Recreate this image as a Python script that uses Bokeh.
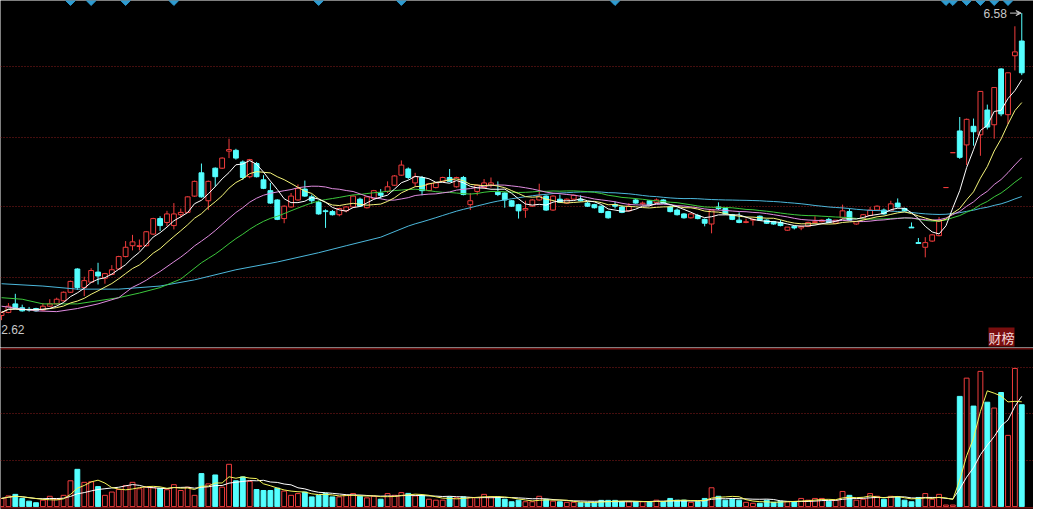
import numpy as np
import pandas as pd
from bokeh.plotting import figure
from bokeh.layouts import column
from bokeh.models import Range1d, Span, Label, Arrow, VeeHead, FixedTicker, ColumnDataSource
from bokeh.embed import file_html
from bokeh.resources import INLINE
from bokeh.core.properties import value

# ---------------- data ----------------
opens = [2.68, 2.72, 2.83, 2.78, 2.76, 2.77, 2.75, 2.80, 2.83, 2.87,
         2.98, 3.28, 3.04, 3.11, 3.24, 3.16, 3.21, 3.28, 3.44, 3.58,
         3.57, 3.58, 3.73, 3.93, 3.88, 3.84, 3.98, 4.01, 4.22, 4.52,
         4.16, 4.58, 4.58, 4.80, 4.81, 4.66, 4.47, 4.64, 4.43, 4.29,
         4.17, 3.93, 4.08, 4.17, 4.31, 4.21, 4.14, 4.03, 4.02, 3.98,
         4.03, 4.08, 4.18, 4.07, 4.19, 4.26, 4.28, 4.36, 4.49, 4.57,
         4.39, 4.46, 4.29, 4.33, 4.41, 4.46, 4.34, 4.46, 4.11, 4.28,
         4.33, 4.36, 4.27, 4.26, 4.16, 4.11, 4.04, 4.09, 4.17, 4.22,
         4.04, 4.18, 4.13, 4.18, 4.18, 4.13, 4.11, 4.09, 4.02, 4.11,
         4.08, 4.03, 4.17, 4.12, 4.16, 4.14, 4.17, 4.08, 4.04, 3.99,
         3.94, 3.97, 3.92, 3.86, 4.08, 4.06, 3.98, 3.91, 3.88, 3.91,
         3.96, 3.91, 3.89, 3.88, 3.78, 3.83, 3.81, 3.83, 3.88, 3.89,
         3.92, 3.87, 3.94, 4.02, 3.86, 3.93, 3.97, 4.04, 4.04, 4.03,
         4.13, 4.06, 3.82, 3.62, 3.56, 3.64, 3.71, 4.33, 4.78, 5.06,
         4.88, 5.12, 5.01, 5.33, 5.14, 5.86, 5.27, 6.03, 6.22]
highs = [2.73, 2.84, 2.96, 2.82, 2.79, 2.78, 2.84, 2.89, 2.91, 2.99,
         3.13, 3.29, 3.18, 3.29, 3.36, 3.23, 3.33, 3.45, 3.64, 3.72,
         3.66, 3.77, 3.94, 3.96, 4.03, 4.13, 4.06, 4.22, 4.42, 4.64,
         4.42, 4.59, 4.72, 4.96, 4.83, 4.68, 4.70, 4.66, 4.49, 4.39,
         4.18, 4.10, 4.26, 4.37, 4.42, 4.24, 4.16, 4.05, 4.04, 4.07,
         4.09, 4.23, 4.20, 4.22, 4.30, 4.31, 4.41, 4.49, 4.68, 4.59,
         4.52, 4.48, 4.39, 4.40, 4.47, 4.57, 4.47, 4.48, 4.26, 4.37,
         4.44, 4.46, 4.41, 4.27, 4.17, 4.12, 4.16, 4.18, 4.38, 4.23,
         4.23, 4.24, 4.19, 4.24, 4.23, 4.15, 4.12, 4.10, 4.03, 4.15,
         4.10, 4.13, 4.19, 4.15, 4.17, 4.19, 4.18, 4.10, 4.06, 4.00,
         4.00, 3.99, 3.93, 4.05, 4.14, 4.07, 3.99, 4.01, 3.93, 3.93,
         3.97, 3.92, 3.90, 3.91, 3.82, 3.84, 3.84, 3.89, 3.96, 3.92,
         3.94, 3.91, 4.11, 4.06, 3.89, 3.99, 4.08, 4.10, 4.06, 4.16,
         4.19, 4.07, 3.88, 3.68, 3.69, 3.73, 3.95, 4.33, 4.78, 5.24,
         5.22, 5.22, 5.57, 5.40, 5.62, 5.87, 5.81, 6.41, 6.58]
lows = [2.62, 2.71, 2.76, 2.73, 2.73, 2.73, 2.74, 2.79, 2.82, 2.86,
        2.97, 3.01, 2.93, 3.10, 3.08, 3.09, 3.20, 3.27, 3.43, 3.52,
        3.52, 3.57, 3.72, 3.77, 3.83, 3.79, 3.94, 4.00, 4.21, 4.20,
        4.04, 4.34, 4.57, 4.71, 4.69, 4.43, 4.45, 4.46, 4.31, 4.12,
        3.91, 3.87, 4.07, 4.16, 4.21, 4.12, 3.98, 3.81, 3.97, 3.96,
        4.01, 4.07, 4.08, 4.06, 4.18, 4.19, 4.26, 4.35, 4.48, 4.44,
        4.34, 4.23, 4.28, 4.32, 4.40, 4.40, 4.33, 4.23, 4.04, 4.23,
        4.32, 4.33, 4.22, 4.07, 4.08, 3.93, 3.94, 4.08, 4.16, 4.03,
        4.03, 4.13, 4.12, 4.17, 4.15, 4.08, 4.06, 4.00, 3.93, 4.06,
        4.00, 4.02, 4.12, 4.10, 4.10, 4.13, 4.12, 4.01, 3.97, 3.93,
        3.93, 3.92, 3.83, 3.74, 4.04, 3.98, 3.91, 3.87, 3.87, 3.84,
        3.90, 3.86, 3.85, 3.83, 3.77, 3.79, 3.78, 3.82, 3.87, 3.88,
        3.87, 3.86, 3.93, 3.90, 3.85, 3.92, 3.96, 4.03, 3.98, 4.02,
        4.07, 4.02, 3.81, 3.61, 3.43, 3.63, 3.70, 4.33, 4.78, 4.70,
        4.62, 4.87, 4.74, 5.08, 4.96, 5.25, 5.15, 5.84, 5.78]
closes = [2.72, 2.80, 2.77, 2.74, 2.75, 2.74, 2.80, 2.83, 2.89, 2.98,
          3.12, 3.04, 3.13, 3.26, 3.19, 3.22, 3.27, 3.44, 3.56, 3.63,
          3.58, 3.76, 3.93, 3.84, 3.99, 3.99, 4.01, 4.21, 4.41, 4.21,
          4.41, 4.47, 4.71, 4.82, 4.71, 4.46, 4.69, 4.47, 4.32, 4.13,
          3.92, 4.09, 4.22, 4.32, 4.22, 4.16, 3.99, 4.02, 3.98, 4.06,
          4.08, 4.22, 4.09, 4.21, 4.29, 4.23, 4.34, 4.48, 4.62, 4.46,
          4.47, 4.29, 4.38, 4.39, 4.46, 4.41, 4.46, 4.24, 4.16, 4.36,
          4.39, 4.39, 4.24, 4.17, 4.09, 4.03, 4.06, 4.17, 4.22, 4.04,
          4.22, 4.14, 4.18, 4.23, 4.16, 4.09, 4.07, 4.01, 3.94, 4.09,
          4.01, 4.09, 4.13, 4.13, 4.11, 4.17, 4.13, 4.02, 3.98, 3.94,
          3.99, 3.93, 3.87, 4.04, 4.06, 3.99, 3.92, 3.88, 3.89, 3.92,
          3.91, 3.87, 3.86, 3.84, 3.82, 3.81, 3.83, 3.88, 3.89, 3.91,
          3.88, 3.91, 4.03, 3.91, 3.89, 3.98, 4.04, 4.09, 3.99, 4.12,
          4.08, 4.03, 3.81, 3.61, 3.62, 3.72, 3.90, 4.33, 4.78, 4.72,
          5.21, 5.05, 5.57, 5.11, 5.62, 5.28, 5.81, 6.08, 5.81]
# volume, in 10k lots
volumes = [4.2, 5.5, 6.3, 4.2, 2.8, 2.0, 3.3, 5.3, 3.7, 5.8,
           13.3, 19.2, 12.5, 12.8, 10.3, 5.8, 7.5, 8.8, 10.8, 12.5,
           9.2, 10.0, 9.7, 9.5, 8.7, 11.3, 8.3, 10.0, 5.8, 17.0,
           11.7, 16.3, 10.0, 21.8, 13.3, 15.3, 13.0, 8.8, 8.3, 8.3,
           9.5, 8.0, 5.8, 6.7, 7.5, 5.0, 5.8, 6.7, 5.0, 5.0,
           5.8, 6.7, 5.3, 4.5, 5.3, 3.8, 6.7, 5.8, 7.2, 6.8,
           5.5, 5.8, 3.8, 3.3, 3.3, 5.0, 4.5, 5.0, 4.7, 4.7,
           6.3, 5.0, 5.0, 3.8, 2.5, 3.3, 2.5, 2.5, 5.3, 3.7,
           2.8, 2.5, 2.2, 2.2, 2.0, 2.0, 2.2, 3.2, 3.2, 3.2,
           2.5, 2.5, 2.5, 2.5, 2.5, 3.3, 2.5, 4.2, 3.3, 3.3,
           2.2, 2.5, 4.2, 9.7, 5.3, 3.3, 3.8, 3.3, 2.2, 1.7,
           1.7, 3.3, 2.2, 2.8, 2.5, 2.5, 4.2, 3.3, 4.2, 4.2,
           2.8, 3.3, 7.8, 5.8, 3.3, 3.8, 6.7, 5.3, 3.8, 5.3,
           5.0, 3.3, 2.5, 4.7, 6.7, 3.8, 6.3, 0.8, 0.8, 56.8,
           66.2, 51.8, 69.7, 53.8, 50.8, 58.8, 36.7, 71.2, 52.5]
# days with a signal marker on the top edge
signal_days = [10, 13, 18, 25, 46, 58, 89, 137, 138, 140, 142, 144, 146]

# long moving averages before their window fills
ma20_early_x = [0, 5, 8, 11, 14, 17]
ma20_early_y = [2.80, 2.74, 2.73, 2.77, 2.83, 2.91]
ma30_early_x = [0, 3, 6, 11, 14, 17, 20, 23, 26]
ma30_early_y = [2.91, 2.89, 2.83, 2.83, 2.87, 2.91, 2.97, 3.04, 3.15]
ma60_early_x = [0, 6, 11, 17, 23, 28, 34, 40, 46, 50, 55]
ma60_early_y = [3.09, 3.06, 3.02, 3.02, 3.06, 3.14, 3.27, 3.37, 3.49, 3.58, 3.69]

price_grid = [5.89, 4.98, 4.08, 3.17]
volume_grid = [24.0, 48.0, 71.5]

# ---------------- styling ----------------
W = 1033
H1, H2 = 347, 162
BG = "#000000"
UP = "#F03C3C"
DN = "#54FFFF"
GRID = "#8A1C1C"
SEP = "#6E1010"
C_MA5 = "#FFFFFF"
C_MA10 = "#F5F57A"
C_MA20 = "#E08CE0"
C_MA30 = "#3CC83C"
C_MA60 = "#4CB8DC"
SIG = "#2E9BD0"
LABEL = "#C8C8C8"

n = len(closes)
idx = np.arange(n)
o = np.array(opens); h = np.array(highs); l = np.array(lows); c = np.array(closes)
up = c >= o
src = ColumnDataSource(dict(
    x=idx, h=h, l=l,
    top=np.maximum(o, c), bot=np.minimum(o, c),
    vol=np.array(volumes),
    color=[UP if u else DN for u in up],
    fill=[BG if u else DN for u in up],
))

cs = pd.Series(closes)
ma5 = cs.rolling(5, min_periods=1).mean()
ma10 = cs.rolling(10, min_periods=1).mean()


def long_ma(win, ex, ey):
    full = cs.rolling(win).mean()
    xs = list(ex) + list(range(win - 1, n))
    ys = list(ey) + list(full.iloc[win - 1:])
    return xs, ys


vs = pd.Series(volumes)
vma5 = vs.rolling(5, min_periods=1).mean()
vma10 = vs.rolling(10, min_periods=1).mean()

PRICE_TOP, PRICE_BOT = 6.7425, 2.2675
xr = Range1d(-0.15, 149.7)


def base_fig(height, yr):
    f = figure(width=W, height=height, x_range=xr, y_range=yr,
               output_backend="svg", toolbar_location=None, min_border=0,
               background_fill_color=BG, border_fill_color=BG,
               outline_line_color=None, x_axis_location=None,
               y_axis_location=None)
    f.xgrid.visible = False
    return f


# ---------------- price panel ----------------
p1 = base_fig(H1, Range1d(PRICE_BOT, PRICE_TOP))
p1.ygrid.ticker = FixedTicker(ticks=price_grid)
p1.ygrid.grid_line_color = GRID
p1.ygrid.grid_line_dash = "1 2"

p1.segment(x0="x", y0="h", x1="x", y1="l", color="color", line_width=1, source=src)
p1.vbar(x="x", width=0.7, top="top", bottom="bot", fill_color="fill",
        line_color="color", line_width=1, source=src)

for xs, ys, col in [
    (*long_ma(60, ma60_early_x, ma60_early_y), C_MA60),
    (*long_ma(30, ma30_early_x, ma30_early_y), C_MA30),
    (*long_ma(20, ma20_early_x, ma20_early_y), C_MA20),
    (list(idx), list(ma10), C_MA10),
    (list(idx), list(ma5), C_MA5),
]:
    p1.line(xs, ys, line_color=col, line_width=1)

p1.scatter(x=signal_days, y=[PRICE_TOP] * len(signal_days), marker="square",
           angle=np.pi / 4, size=7, fill_color=SIG, line_color=SIG)

kmax = int(np.argmax(h))
kmin = int(np.argmin(l))
p1.text(x=[kmax - 2.15], y=[h[kmax]], text=[f"{h[kmax]:.2f}"], text_align="right",
        text_baseline="middle", text_color=LABEL, text_font=value("Liberation Sans"),
        text_font_size="12px")
p1.add_layout(Arrow(end=VeeHead(size=5, line_color=LABEL, fill_color=LABEL),
                    x_start=kmax - 1.7, y_start=h[kmax], x_end=kmax - 0.1, y_end=h[kmax],
                    line_color=LABEL, line_width=1))
p1.text(x=[kmin - 0.05], y=[l[kmin]], text=[f"{l[kmin]:.2f}"], text_align="left",
        text_baseline="middle", y_offset=9, text_color=LABEL,
        text_font=value("Liberation Sans"), text_font_size="12px")

p1.add_layout(Label(x=988, y=1, x_units="screen", y_units="screen", text="财榜",
                    text_font="Noto Sans CJK SC", text_font_size="13px",
                    text_color="#F4DADA", background_fill_color="#7A0E0E",
                    text_baseline="bottom"))

# ---------------- volume panel ----------------
p2 = base_fig(H2, Range1d(-1.5, 82))
p2.ygrid.ticker = FixedTicker(ticks=volume_grid)
p2.ygrid.grid_line_color = GRID
p2.ygrid.grid_line_dash = "1 2"
p2.vbar(x="x", width=0.7, top="vol", bottom=0, fill_color="fill",
        line_color="color", line_width=1, source=src)
p2.line(idx, vma10, line_color="#FFFFFF", line_width=1)
p2.line(idx, vma5, line_color="#F5F55A", line_width=1)
p2.add_layout(Span(location=81.3, dimension="width", line_color=SEP, line_width=1.5))
p2.add_layout(Span(location=-0.6, dimension="width", line_color=SEP, line_width=1.5))

layout = column(p1, p2, spacing=0)
open("out.html", "w").write(file_html(layout, INLINE))
